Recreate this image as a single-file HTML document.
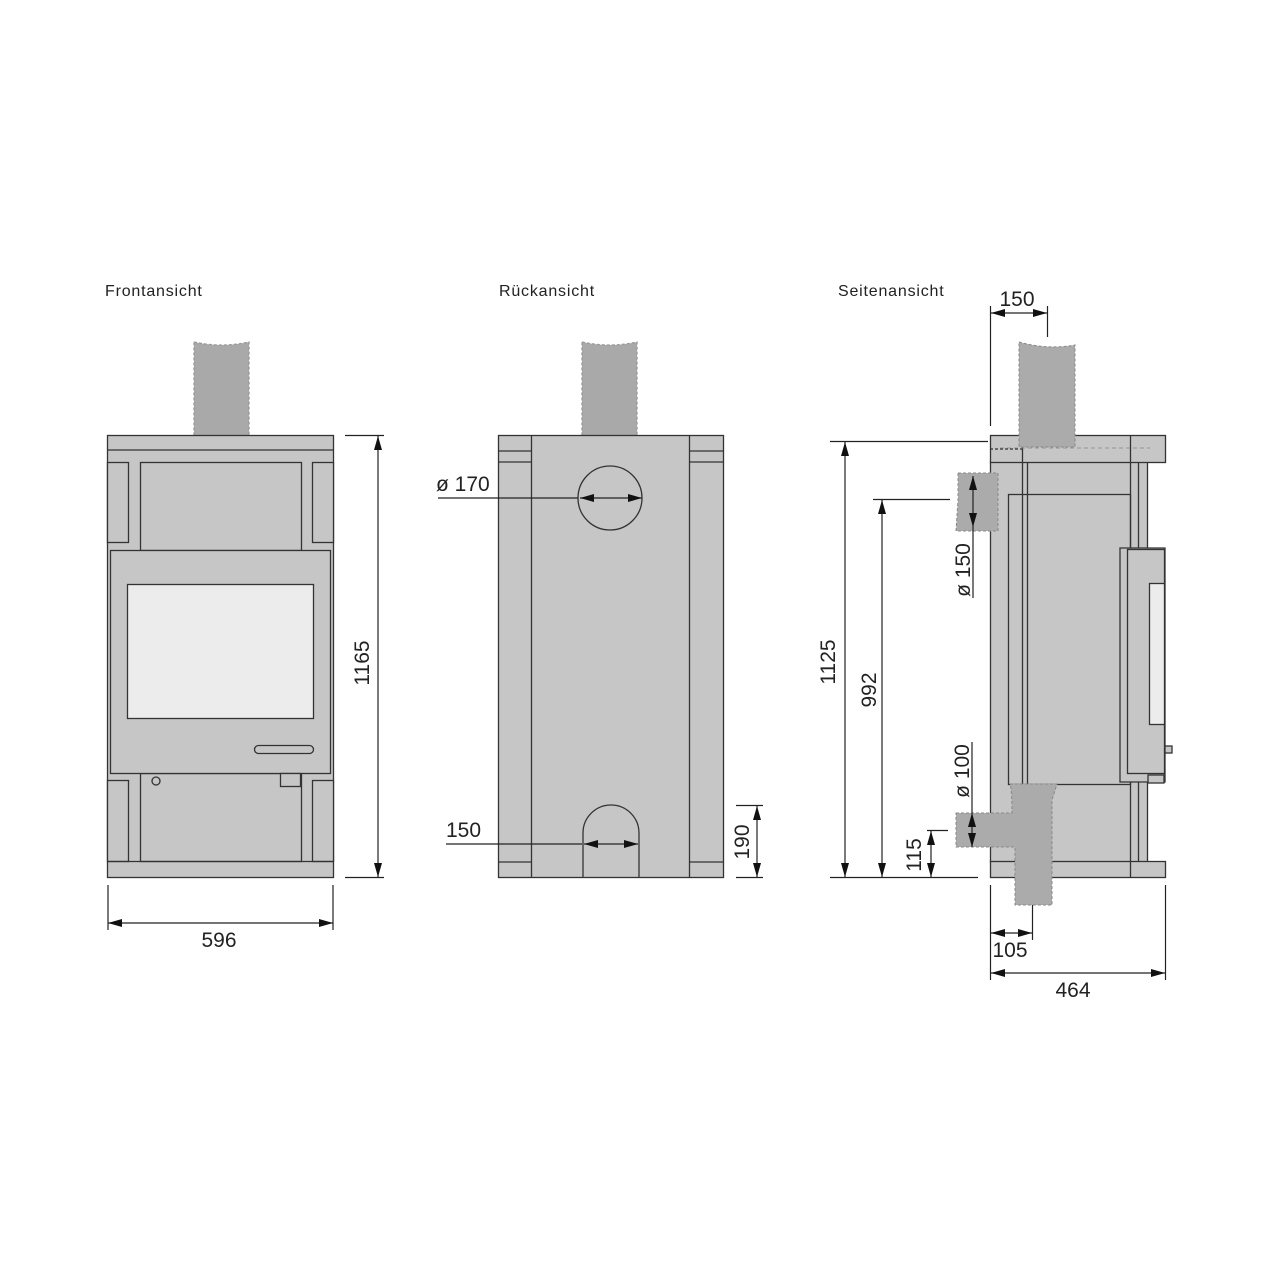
<!DOCTYPE html>
<html><head><meta charset="utf-8"><style>
html,body{margin:0;padding:0;background:#fff}
svg{display:block}
text{font-family:"Liberation Sans",sans-serif;fill:#222}
</style></head><body>
<svg width="1280" height="1280" viewBox="0 0 1280 1280" xmlns="http://www.w3.org/2000/svg">
<defs>
<marker id="a" viewBox="0 0 14 8" refX="14" refY="4" markerWidth="14" markerHeight="8" orient="auto-start-reverse" markerUnits="userSpaceOnUse"><path d="M0,0 L14,4 L0,8 z" fill="#111"/></marker>
</defs>
<g font-size="16" letter-spacing="0.8">
<text x="105" y="296">Frontansicht</text>
<text x="499" y="296">Rückansicht</text>
<text x="838" y="296">Seitenansicht</text>
</g>

<!-- FRONT -->
<g stroke="#333" stroke-width="1.3" fill="#c6c6c6">
<path d="M194,342 Q222,348 249,342 L249,436 L194,436 Z" fill="#a9a9a9" stroke="#999" stroke-dasharray="3,2"/>
<rect x="107.5" y="435.5" width="226" height="442"/>
<line x1="107" y1="450" x2="333" y2="450"/>
<rect x="107.5" y="462.5" width="21" height="80"/>
<rect x="312.5" y="462.5" width="21" height="80"/>
<rect x="140.5" y="462.5" width="161" height="88"/>
<rect x="107.5" y="780.5" width="21" height="81"/>
<rect x="312.5" y="780.5" width="21" height="81"/>
<rect x="140.5" y="773.5" width="161" height="88"/>
<line x1="107" y1="861.5" x2="333" y2="861.5"/>
<rect x="110.5" y="550.5" width="220" height="223"/>
<rect x="127.5" y="584.5" width="186" height="134" fill="#ececec"/>
<rect x="254.5" y="745.5" width="59" height="8" rx="4"/>
<circle cx="156" cy="781" r="4"/>
<rect x="280.5" y="773.5" width="20" height="13"/>
</g>
<g stroke="#222" stroke-width="1.2" fill="none">
<line x1="345" y1="435.5" x2="384" y2="435.5"/>
<line x1="345" y1="877.5" x2="384" y2="877.5"/>
<line x1="378" y1="436" x2="378" y2="877" marker-start="url(#a)" marker-end="url(#a)"/>
<line x1="108" y1="885" x2="108" y2="930"/>
<line x1="333" y1="885" x2="333" y2="930"/>
<line x1="108" y1="923" x2="333" y2="923" marker-start="url(#a)" marker-end="url(#a)"/>
</g>
<text x="219" y="947" font-size="21" text-anchor="middle">596</text>
<text transform="translate(369,663) rotate(-90)" font-size="21" text-anchor="middle">1165</text>

<!-- BACK -->
<g stroke="#333" stroke-width="1.3" fill="#c6c6c6">
<path d="M582,342 Q610,348 637,342 L637,436 L582,436 Z" fill="#a9a9a9" stroke="#999" stroke-dasharray="3,2"/>
<rect x="498.5" y="435.5" width="225" height="442"/>
<line x1="498" y1="451" x2="531" y2="451"/><line x1="498" y1="462" x2="531" y2="462"/>
<line x1="689" y1="451" x2="724" y2="451"/><line x1="689" y1="462" x2="724" y2="462"/>
<line x1="498" y1="862" x2="531" y2="862"/><line x1="689" y1="862" x2="724" y2="862"/>
<line x1="531.5" y1="435" x2="531.5" y2="877"/>
<line x1="689.5" y1="435" x2="689.5" y2="877"/>
<circle cx="610" cy="498" r="32" fill="none"/>
<path d="M583,877 L583,833 A28,28 0 0 1 639,833 L639,877" fill="none"/>
</g>
<g stroke="#222" stroke-width="1.2" fill="none">
<line x1="438" y1="498" x2="578" y2="498"/>
<line x1="580" y1="498" x2="642" y2="498" marker-start="url(#a)" marker-end="url(#a)"/>
<line x1="446" y1="844" x2="582" y2="844"/>
<line x1="584" y1="844" x2="638" y2="844" marker-start="url(#a)" marker-end="url(#a)"/>
<line x1="736" y1="805.5" x2="763" y2="805.5"/>
<line x1="736" y1="877.5" x2="763" y2="877.5"/>
<line x1="757" y1="806" x2="757" y2="877" marker-start="url(#a)" marker-end="url(#a)"/>
</g>
<text x="436" y="491" font-size="21">ø 170</text>
<text x="446" y="837" font-size="21">150</text>
<text transform="translate(749,842) rotate(-90)" font-size="21" text-anchor="middle">190</text>

<!-- SIDE -->
<g stroke="#333" stroke-width="1.3" fill="#c6c6c6">
<rect x="990.5" y="462" width="157" height="400"/>
<rect x="990.5" y="435.5" width="175" height="27"/>
<rect x="990.5" y="861.5" width="175" height="16"/>
<line x1="1130.5" y1="435" x2="1130.5" y2="877"/>
<line x1="1138.5" y1="462" x2="1138.5" y2="861"/>
<line x1="1022.5" y1="435" x2="1022.5" y2="784"/>
<line x1="1027.5" y1="462" x2="1027.5" y2="784"/>
<rect x="1008.5" y="494.5" width="122" height="290" fill="none"/>
<path d="M1120,548 L1165,548 L1165,782 L1120,782 Z"/>
<rect x="1127.5" y="549.5" width="37" height="224"/>
<rect x="1149.5" y="583.5" width="15" height="141" fill="#ececec"/>
<rect x="1165" y="746" width="7" height="7"/>
<rect x="1148" y="775" width="16" height="8"/>
<line x1="990" y1="449" x2="1025" y2="449" stroke-dasharray="3,2"/>
<line x1="1000" y1="448" x2="1150" y2="448" stroke="#888" stroke-width="0.8" stroke-dasharray="4,3"/>
</g>
<g fill="#ababab" stroke="#888" stroke-dasharray="3,2" stroke-width="1">
<path d="M1019,342 Q1047,350 1075,345 L1075,447 L1019,447 Z"/>
<path d="M958,473 L998,473 L998,531 L956,531 L958,500 Z"/>
<path d="M956,813 L1012,813 Q1012,790 1010,784 L1057,784 L1052,800 L1052,905 L1015,905 L1015,847 L956,847 Z"/>
</g>
<g stroke="#222" stroke-width="1.2" fill="none">
<line x1="990.5" y1="306" x2="990.5" y2="426"/>
<line x1="1047.5" y1="306" x2="1047.5" y2="337"/>
<line x1="991" y1="313" x2="1047" y2="313" marker-start="url(#a)" marker-end="url(#a)"/>
<line x1="830" y1="441.5" x2="988" y2="441.5"/>
<line x1="830" y1="877.5" x2="978" y2="877.5"/>
<line x1="845" y1="442" x2="845" y2="877" marker-start="url(#a)" marker-end="url(#a)"/>
<line x1="873" y1="499.5" x2="950" y2="499.5"/>
<line x1="882" y1="500" x2="882" y2="877" marker-start="url(#a)" marker-end="url(#a)"/>
<line x1="927" y1="830.5" x2="948" y2="830.5"/>
<line x1="931" y1="831" x2="931" y2="877" marker-start="url(#a)" marker-end="url(#a)"/>
<line x1="973" y1="476" x2="973" y2="527" marker-start="url(#a)" marker-end="url(#a)"/>
<line x1="973" y1="527" x2="973" y2="598"/>
<line x1="972" y1="813" x2="972" y2="847" marker-start="url(#a)" marker-end="url(#a)"/>
<line x1="972" y1="742" x2="972" y2="813"/>
<line x1="990.5" y1="885" x2="990.5" y2="980"/>
<line x1="1032.5" y1="905" x2="1032.5" y2="940"/>
<line x1="1165.5" y1="885" x2="1165.5" y2="980"/>
<line x1="991" y1="933" x2="1032" y2="933" marker-start="url(#a)" marker-end="url(#a)"/>
<line x1="991" y1="973" x2="1165" y2="973" marker-start="url(#a)" marker-end="url(#a)"/>
</g>
<text x="1017" y="306" font-size="21" text-anchor="middle">150</text>
<text x="1010" y="957" font-size="21" text-anchor="middle">105</text>
<text x="1073" y="997" font-size="21" text-anchor="middle">464</text>
<text transform="translate(835,662) rotate(-90)" font-size="21" text-anchor="middle">1125</text>
<text transform="translate(876,690) rotate(-90)" font-size="21" text-anchor="middle">992</text>
<text transform="translate(921,855) rotate(-90)" font-size="21" text-anchor="middle">115</text>
<text transform="translate(970,570) rotate(-90)" font-size="21" text-anchor="middle">ø 150</text>
<text transform="translate(969,771) rotate(-90)" font-size="21" text-anchor="middle">ø 100</text>
</svg>
</body></html>
